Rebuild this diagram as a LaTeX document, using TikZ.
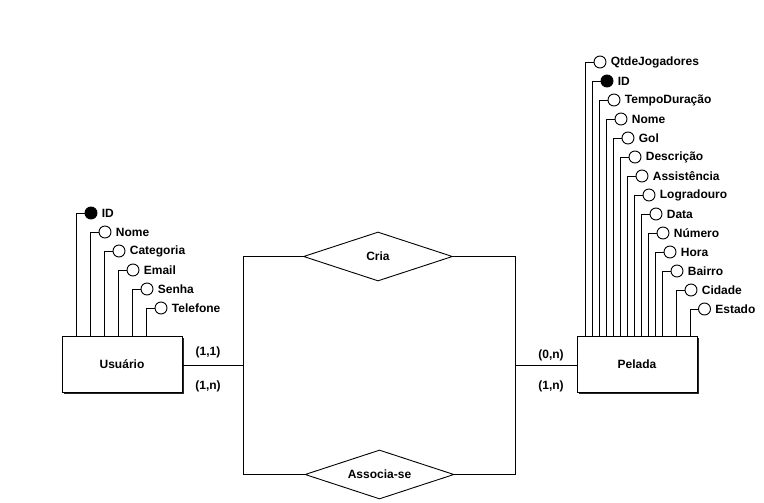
\documentclass[tikz,border=0pt]{standalone}
\usepackage{fontspec}
\setmainfont{Liberation Sans}
\usetikzlibrary{shapes.geometric,calc}
\begin{document}
\begin{tikzpicture}[x=1pt,y=-1pt,line width=0.9pt,
  txt/.style={font=\fontsize{12}{14}\selectfont\bfseries,inner sep=0pt},
  entity/.style={draw,fill=white,minimum width=120pt,minimum height=56pt,inner sep=0pt,txt},
  shadowbox/.style={fill=black!85,minimum width=120pt,minimum height=56pt,inner sep=0pt},
  attr/.style={draw,circle,fill=white,minimum size=12pt,inner sep=0pt},
  keyattr/.style={attr,fill=black},
  rel/.style={draw,diamond,fill=white,aspect=3,minimum width=149pt,minimum height=49pt,inner sep=0pt,txt},
  card/.style={txt}]
\useasboundingbox[fill=white] (0,0) rectangle (764,503);

% entities
\node[shadowbox] (ush) at (124,366) {};
\node[entity] (usuario) at (122,364) {Usu\'ario};
\node[shadowbox] (psh) at (639,366) {};
\node[entity] (pelada) at (637,364) {Pelada};

% Usuario attributes
\foreach \n/\lx/\name [count=\i from 0] in {u1/76.5/ID,u2/90.5/Nome,u3/104.5/Categoria,u4/118.5/Email,u5/132.5/Senha,u6/146.5/Telefone}{
  \pgfmathsetmacro{\yy}{213+19*\i}
  \ifnum\i=0
    \node[keyattr] (\n) at (\lx+14.5,\yy) {};
  \else
    \node[attr] (\n) at (\lx+14.5,\yy) {};
  \fi
  \node[txt,anchor=west] (\n t) at ([xshift=4pt]\n.east) {\name};
  \draw (\n.west) -| ([xshift=-14.5pt]\n.center |- usuario.north);
}

% Pelada attributes
\foreach \n/\lx/\name [count=\i from 0] in {p1/585.5/QtdeJogadores,p2/592.5/ID,p3/599.5/TempoDuração,p4/606.5/Nome,p5/613.5/Gol,p6/620.5/Descrição,p7/627.5/Assistência,p8/634.5/Logradouro,p9/641.5/Data,p10/648.5/Número,p11/655.5/Hora,p12/662.5/Bairro,p13/676.5/Cidade,p14/690/Estado}{
  \pgfmathsetmacro{\yy}{62+19*\i}
  \ifnum\i=1
    \node[keyattr] (\n) at (\lx+14.5,\yy) {};
  \else
    \node[attr] (\n) at (\lx+14.5,\yy) {};
  \fi
  \node[txt,anchor=west] (\n t) at ([xshift=4pt]\n.east) {\name};
  \draw (\n.west) -| ([xshift=-14.5pt]\n.center |- pelada.north);
}

% relationships
\node[rel] (cria) at (378,256.5) {Cria};
\node[rel] (assoc) at (379.5,474.5) {Associa-se};

\coordinate (ltop) at (243,256.5);
\coordinate (lmid) at (243,365);
\coordinate (lbot) at (243,474.5);
\coordinate (rtop) at (515.5,256.5);
\coordinate (rmid) at (515.5,365);
\coordinate (rbot) at (515.5,474.5);

\draw (usuario.east |- lmid) -- (lmid);
\draw (cria.west) -- (ltop) -- (lbot) -- (assoc.west);
\draw (cria.east) -- (rtop) -- (rbot) -- (assoc.east);
\draw (rmid) -- (pelada.west |- rmid);

% cardinalities
\node[card] (c1) at (208,352) {(1,1)};
\node[card] (c2) at (208,386) {(1,n)};
\node[card] (c3) at (551,355) {(0,n)};
\node[card] (c4) at (551,386) {(1,n)};
\end{tikzpicture}
\end{document}
